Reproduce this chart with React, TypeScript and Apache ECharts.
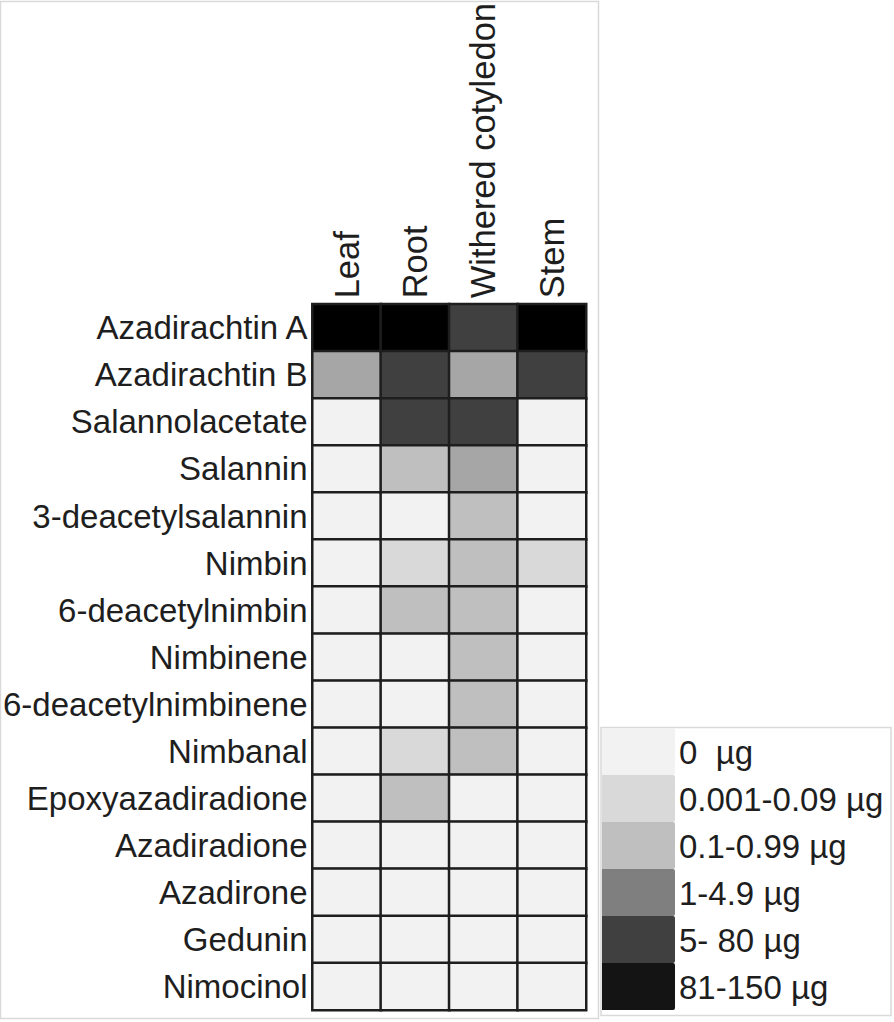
import React, { useEffect, useRef } from "react";
import * as echarts from "echarts";

const tissues = ["Leaf", "Root", "Withered cotyledon", "Stem"];
const compounds = [
  "Azadirachtin A",
  "Azadirachtin B",
  "Salannolacetate",
  "Salannin",
  "3-deacetylsalannin",
  "Nimbin",
  "6-deacetylnimbin",
  "Nimbinene",
  "6-deacetylnimbinene",
  "Nimbanal",
  "Epoxyazadiradione",
  "Azadiradione",
  "Azadirone",
  "Gedunin",
  "Nimocinol",
];
// level per compound: [Leaf, Root, Withered cotyledon, Stem]
const leafLevels = [5, 3, 0, 0, 0, 0, 0, 0, 0, 0, 0, 0, 0, 0, 0];
const rootLevels = [5, 4, 4, 2, 0, 1, 2, 0, 0, 1, 2, 0, 0, 0, 0];
const witheredLevels = [4, 3, 4, 3, 2, 2, 2, 2, 2, 2, 0, 0, 0, 0, 0];
const stemLevels = [5, 4, 0, 0, 0, 1, 0, 0, 0, 0, 0, 0, 0, 0, 0];

const cellColors = ["#f2f2f2", "#d9d9d9", "#bfbfbf", "#a6a6a6", "#404040", "#000000"];
const legendColors = ["#f2f2f2", "#d9d9d9", "#bfbfbf", "#7f7f7f", "#404040", "#141414"];
const legendLabels = ["0  µg", "0.001-0.09 µg", "0.1-0.99 µg", "1-4.9 µg", "5- 80 µg", "81-150 µg"];

const FONT = "'Liberation Sans', Arial, Helvetica, sans-serif";

export default function App() {
  const ref = useRef<HTMLDivElement>(null);
  useEffect(() => {
    if (!ref.current) return;
    const chart = echarts.init(ref.current, undefined, { renderer: "svg" });
    const cols = [leafLevels, rootLevels, witheredLevels, stemLevels];
    const data: any[] = [];
    cols.forEach((arr, ci) => {
      arr.forEach((lv, ri) => {
        data.push([ci, ri, lv]);
      });
    });

    const legendX = 602;
    const legendTop = 728;
    const swH = 47;
    const graphics: any[] = [
      {
        type: "rect",
        shape: { x: 0.5, y: 1.5, width: 598, height: 1017 },
        style: { fill: "none", stroke: "#d9d9d9", lineWidth: 1.5 },
        z: 0,
      },
      {
        type: "rect",
        shape: { x: 601, y: 727.5, width: 290, height: 288 },
        style: { fill: "#ffffff", stroke: "#d9d9d9", lineWidth: 1.5 },
        z: 1,
      },
    ];
    legendColors.forEach((c, i) => {
      graphics.push({
        type: "rect",
        shape: { x: legendX, y: legendTop + i * swH, width: 73, height: swH, r: [0, 2, 2, 0] },
        style: { fill: c },
        z: 2,
      });
      graphics.push({
        type: "text",
        x: 679,
        y: legendTop + i * swH + swH / 2 + 1,
        style: {
          text: legendLabels[i],
          font: `33px ${FONT}`,
          fill: "#1e1e1e",
          verticalAlign: "middle",
        },
        z: 2,
      });
    });

    chart.setOption({
      animation: false,
      backgroundColor: "#ffffff",
      grid: { left: 310, top: 303, width: 276, height: 707 },
      visualMap: {
        type: "piecewise",
        show: false,
        dimension: 2,
        pieces: cellColors.map((c, i) => ({ value: i, color: c })),
      },
      xAxis: {
        type: "category",
        data: tissues,
        position: "top",
        axisLine: { show: false },
        axisTick: { show: false },
        splitLine: { show: false },
        axisLabel: {
          rotate: -90,
          margin: 6,
          fontSize: 34.5,
          fontFamily: FONT,
          color: "#1e1e1e",
          interval: 0,
        },
      },
      yAxis: {
        type: "category",
        data: compounds,
        inverse: true,
        axisLine: { show: false },
        axisTick: { show: false },
        splitLine: { show: false },
        axisLabel: {
          margin: 5,
          fontSize: 33,
          fontFamily: FONT,
          color: "#1e1e1e",
          interval: 0,
        },
      },
      series: [
        {
          type: "heatmap",
          data,
          itemStyle: { borderColor: "#1e1e1e", borderWidth: 2.5 },
          emphasis: { disabled: true },
        },
      ],
      graphic: graphics,
    });
    return () => chart.dispose();
  }, []);
  return (
    <div
      ref={ref}
      style={{ position: "absolute", left: 0, top: 0, width: 894, height: 1022 }}
    />
  );
}
